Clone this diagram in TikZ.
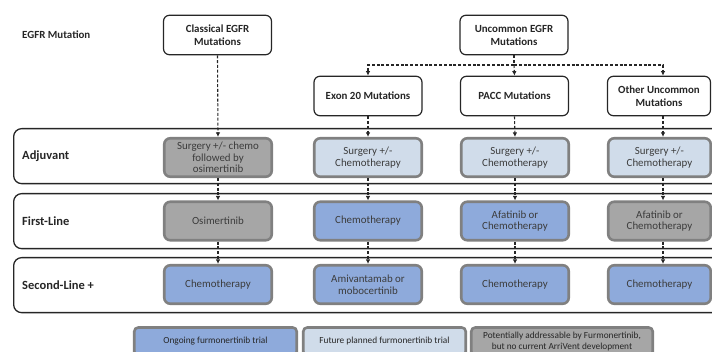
\documentclass[tikz,border=0pt]{standalone}
\usepackage{fontspec}
\setmainfont{Carlito}
\usetikzlibrary{arrows.meta}
\definecolor{gfill}{HTML}{A6A6A6}
\definecolor{bfill}{HTML}{8EAADB}
\definecolor{lfill}{HTML}{D0DCEA}
\definecolor{bord}{HTML}{808080}
\definecolor{ink}{HTML}{262626}
\begin{document}
\begin{tikzpicture}[x=1pt,y=-1pt,
  mutbox/.style={draw=ink, line width=1.2pt, rounded corners=6pt, fill=white,
    minimum width=108pt, minimum height=39.5pt, align=center, inner sep=0pt,
    font=\fontsize{10.9}{13}\selectfont\bfseries, text=ink},
  trt/.style={draw=bord, line width=2.6pt, rounded corners=6pt,
    minimum width=107.5pt, minimum height=38.5pt, align=center, inner sep=0pt,
    font=\fontsize{10.9}{11.6}\selectfont, text=ink!90},
  gbox/.style={trt, fill=gfill},
  bbox/.style={trt, fill=bfill},
  lbox/.style={trt, fill=lfill},
  band/.style={draw=ink, line width=1.3pt, rounded corners=8pt, inner sep=0pt,
    minimum width=717pt, minimum height=55pt, anchor=north west},
  rowlab/.style={anchor=west, font=\fontsize{12.5}{14}\selectfont\bfseries, text=ink, inner sep=0pt},
  leg/.style={draw=bord, line width=2.6pt, rounded corners=4pt, inner sep=0pt,
    minimum height=28pt, align=center, font=\fontsize{9.3}{11}\selectfont, text=ink},
  dline/.style={draw=ink, line width=1.1pt, dash pattern=on 3pt off 1.8pt},
  darr/.style={dline, -{Latex[length=4.5pt,width=4.5pt]}}
]
\useasboundingbox (0,0) rectangle (712,352);

% bands
\node[band] (bandA) at (13,128) {};
\node[band] (bandF) at (13,193) {};
\node[band] (bandS) at (13,257) {};

% labels
\node[rowlab, font=\fontsize{10.9}{13}\selectfont\bfseries] (egfr) at (22,35) {EGFR Mutation};
\node[rowlab] (lA) at (22,156) {Adjuvant};
\node[rowlab] (lF) at (22,221) {First-Line};
\node[rowlab] (lS) at (22,285) {Second-Line +};

% mutation boxes
\node[mutbox] (clas) at (217.5,35) {Classical EGFR\\Mutations};
\node[mutbox] (unc) at (514,35) {Uncommon EGFR\\Mutations};
\node[mutbox] (exon) at (368,96) {Exon 20 Mutations};
\node[mutbox] (pacc) at (514.5,96) {PACC Mutations};
\node[mutbox, minimum width=103pt] (oth) at (659,96) {Other Uncommon\\Mutations};

% adjuvant row
\node[gbox] (a1) at (218,157.5) {Surgery +/- chemo\\followed by\\osimertinib};
\node[lbox] (a2) at (368,157.5) {Surgery +/-\\Chemotherapy};
\node[lbox] (a3) at (515,157.5) {Surgery +/-\\Chemotherapy};
\node[lbox, minimum width=102.5pt] (a4) at (659.5,157.5) {Surgery +/-\\Chemotherapy};

% first-line row
\node[gbox] (f1) at (218,221) {Osimertinib};
\node[bbox] (f2) at (368,221) {Chemotherapy};
\node[bbox] (f3) at (515,221) {Afatinib or\\Chemotherapy};
\node[gbox, minimum width=102.5pt] (f4) at (659.5,221) {Afatinib or\\Chemotherapy};

% second-line row
\node[bbox] (s1) at (218,284.5) {Chemotherapy};
\node[bbox] (s2) at (368,284.5) {Amivantamab or\\mobocertinib};
\node[bbox] (s3) at (515,284.5) {Chemotherapy};
\node[bbox, minimum width=102.5pt] (s4) at (659.5,284.5) {Chemotherapy};

% connectors
\coordinate (bar) at (514,65);
\draw[dline] (unc.south) -- (bar);
\draw[darr] (bar) -| (exon.north);
\draw[darr] (bar) -| ([xshift=4pt]oth.north);
\draw[darr] (bar) -- (pacc.north);

\draw[darr] (clas.south) -- (a1.north);
\draw[darr] (exon.south) -- (a2.north);
\draw[darr] (pacc.south) -- (a3.north);
\draw[darr] ([xshift=4pt]oth.south) -- ([xshift=3.5pt]a4.north);

\draw[darr] (a1.south) -- (f1.north);
\draw[darr] (a2.south) -- (f2.north);
\draw[darr] (a3.south) -- (f3.north);
\draw[darr] ([xshift=3.5pt]a4.south) -- ([xshift=3.5pt]f4.north);

\draw[darr] (f1.south) -- (s1.north);
\draw[darr] (f2.south) -- (s2.north);
\draw[darr] (f3.south) -- (s3.north);
\draw[darr] ([xshift=3.5pt]f4.south) -- ([xshift=3.5pt]s4.north);

% legend
\node[leg, fill=bfill, minimum width=162.5pt] (g1) at (215.5,341.5) {Ongoing furmonertinib trial};
\node[leg, fill=lfill, minimum width=162.5pt] (g2) at (384.5,341.5) {Future planned furmonertinib trial};
\node[leg, fill=gfill, minimum width=181.5pt] (g3) at (562,341.5) {Potentially addressable by Furmonertinib,\\but no current ArriVent development};
\end{tikzpicture}
\end{document}
